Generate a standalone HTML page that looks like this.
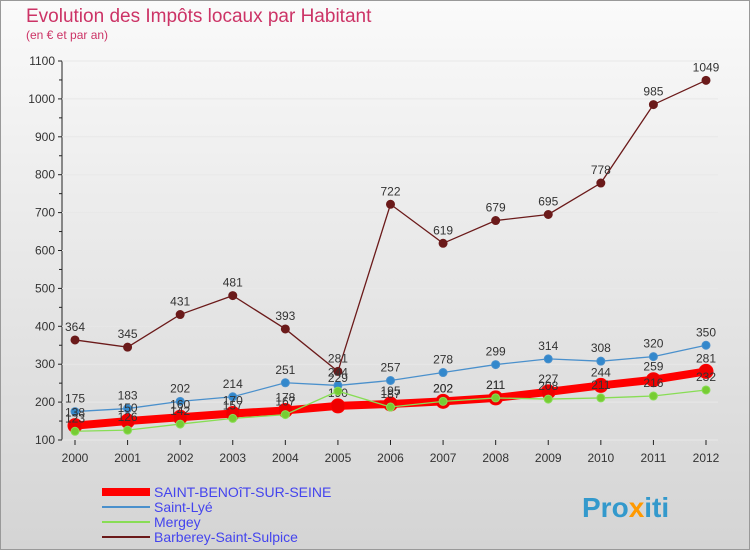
<!DOCTYPE html>
<html><head><meta charset="utf-8"><style>
body{margin:0;width:750px;height:550px;overflow:hidden;font-family:"Liberation Sans",sans-serif}
svg text{font-family:"Liberation Sans",sans-serif}
</style></head><body>
<svg id="c" width="750" height="550" xmlns="http://www.w3.org/2000/svg">
<defs><linearGradient id="bg" x1="0" y1="0" x2="0" y2="1"><stop offset="0" stop-color="#fafafa"/><stop offset="1" stop-color="#d4d4d4"/></linearGradient></defs>
<rect x="0.5" y="0.5" width="749" height="549" fill="url(#bg)" stroke="#999"/>
<text x="26" y="22" font-size="19" fill="#cc3366">Evolution des Impôts locaux par Habitant</text>
<text x="26" y="39" font-size="12" fill="#cc3366">(en € et par an)</text>
<g id="axes"></g><g id="series"></g><g id="legend"></g>
<text x="582" y="517" font-size="28" font-weight="bold" fill="#3399cc">Pro<tspan fill="#ff9900">x</tspan>iti</text>
</svg>
<script>
const years=["2000","2001","2002","2003","2004","2005","2006","2007","2008","2009","2010","2011","2012"];
const yTicks=[100,200,300,400,500,600,700,800,900,1000,1100];
const saintBenoit=[138,150,160,170,178,190,195,202,211,227,244,259,281];
const saintLye=[175,183,202,214,251,244,257,278,299,314,308,320,350];
const mergey=[123,126,142,157,167,229,187,202,211,208,211,216,232];
const barberey=[364,345,431,481,393,281,722,619,679,695,778,985,1049];
const NS="http://www.w3.org/2000/svg";
const X=i=>75+i*(706-75)/(years.length-1);
const Y=v=>440-(v-100)*379/1000;
function mk(t,a,p){const e=document.createElementNS(NS,t);for(const k in a)e.setAttribute(k,a[k]);p.appendChild(e);return e;}
const ax=document.getElementById('axes');
let l=mk('line',{x1:62,y1:Y(1100),x2:62,y2:440,stroke:'#222'},ax);


l=mk('line',{x1:62,y1:440,x2:718,y2:440,stroke:'#222'},ax);


yTicks.forEach(v=>{
 mk('line',{x1:62,y1:Y(v),x2:718,y2:Y(v),stroke:'#e8e8e8'},ax);
 mk('line',{x1:58,y1:Y(v),x2:62,y2:Y(v),stroke:'#222'},ax);
 if(v<1100) mk('line',{x1:59,y1:Y(v+50),x2:62,y2:Y(v+50),stroke:'#222'},ax);
 const t=mk('text',{x:55,y:Y(v)+4,'font-size':12,fill:'#333','text-anchor':'end'},ax);t.textContent=v;
 
 
});
years.forEach((y,i)=>{
 mk('line',{x1:X(i),y1:440,x2:X(i),y2:445,stroke:'#222'},ax);
 const t=mk('text',{x:X(i),y:462,'font-size':12,fill:'#333','text-anchor':'middle'},ax);t.textContent=y;
 
 
});
const sg=document.getElementById('series');
function series(data,color,w,r,name,dot){
 const g=mk('g',{},sg);
 
 
 mk('polyline',{points:data.map((v,i)=>X(i)+','+Y(v)).join(' '),fill:'none',stroke:color,'stroke-width':w},g);
 data.forEach((v,i)=>{
  const c=mk('circle',{cx:X(i),cy:Y(v),r:r,fill:dot,stroke:color,'stroke-width':1},g);
  
  
  const t=mk('text',{x:X(i),y:Y(v)-9,'font-size':12,fill:'#333','text-anchor':'middle'},g);t.textContent=v;
  
  
 });
}
series(barberey,'#6b1a1a',1.3,4,'barberey-series','#6b1a1a');
series(saintLye,'#4a90cc',1.3,4,'saint-lye-series','#3388cc');
series(saintBenoit,'#ff0000',8,7,'saint-benoit-series','#ee0000');
series(mergey,'#88dd55',1.3,4,'mergey-series','#77cc33');
const lg=document.getElementById('legend');
[["SAINT-BENOîT-SUR-SEINE","#ff0000",8],["Saint-Lyé","#4a90cc",2],["Mergey","#88dd55",2],["Barberey-Saint-Sulpice","#6b1a1a",2]].forEach((e,i)=>{
 const g=mk('g',{},lg);
 
 
 const y=492+i*15;
 mk('line',{x1:102,y1:y,x2:150,y2:y,stroke:e[1],'stroke-width':e[2]},g);
 const t=mk('text',{x:154,y:y+5,'font-size':14,fill:'#4444ee'},g);t.textContent=e[0];
});
</script>
</body></html>
